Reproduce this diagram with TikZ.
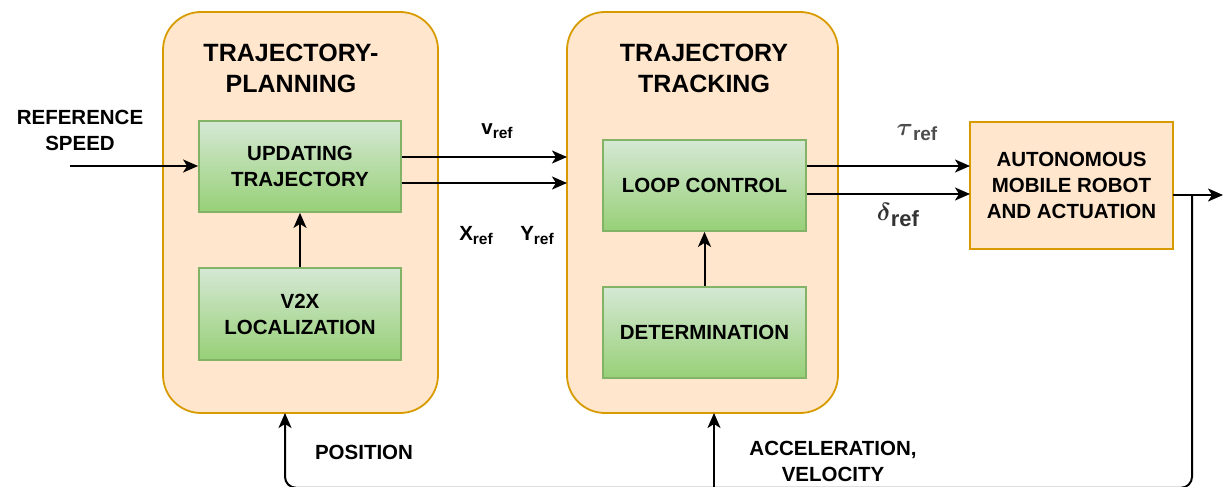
\documentclass[tikz,border=0pt]{standalone}
\usepackage{amsmath}
\usepackage{fontspec}
\setmainfont{Liberation Sans}
\usetikzlibrary{arrows.meta}
\definecolor{orfill}{HTML}{FFE6CC}
\definecolor{orline}{HTML}{D79B00}
\definecolor{grtop}{HTML}{D5E8D4}
\definecolor{grbot}{HTML}{97D077}
\definecolor{grline}{HTML}{82B366}
\definecolor{taucol}{HTML}{4D4D4D}
\definecolor{delcol}{HTML}{333333}
\begin{document}
\begin{tikzpicture}[x=1pt,y=-1pt,
  bigbox/.style={draw=orline,fill=orfill,line width=1.8pt,rounded corners=38pt},
  robbox/.style={draw=orline,fill=orfill,line width=1.8pt},
  greenbox/.style={draw=grline,line width=1.8pt,top color=grtop,bottom color=grbot},
  title/.style={font=\fontsize{25}{31}\selectfont\bfseries,align=center,inner sep=0pt},
  body/.style={font=\fontsize{20.5}{26}\selectfont\bfseries,align=center,inner sep=0pt},
  lab/.style={font=\fontsize{20.5}{26}\selectfont\bfseries,inner sep=0pt},
  arr/.style={draw=black,line width=2pt,-{Stealth[length=15pt,width=13pt,inset=4pt]}},
  ln/.style={draw=black,line width=2pt}]
\useasboundingbox (0,0) rectangle (1223,487);
% big boxes
\path[bigbox] (163,12) rectangle (438,413);
\path[bigbox] (567,12) rectangle (838,413);
\coordinate (planbot) at (285,413);
\coordinate (trackbot) at (714,413);
\coordinate (planl1) at (567,157);
\coordinate (planl2) at (567,183);
\node[title] (t1) at (291,68) {TRAJECTORY-\\PLANNING};
\node[title] (t2) at (704,68) {TRAJECTORY\\TRACKING};
% green boxes
\node[greenbox,minimum width=202pt,minimum height=91pt,inner sep=0pt] (upd) at (300,166.5) {};
\node[body] at (upd.center) {UPDATING\\TRAJECTORY};
\node[greenbox,minimum width=202pt,minimum height=92pt,inner sep=0pt] (v2x) at (300,314) {};
\node[body] at (v2x.center) {V2X\\LOCALIZATION};
\node[greenbox,minimum width=203pt,minimum height=91pt,inner sep=0pt] (loop) at (704.5,185.5) {};
\node[body] at (loop.center) {LOOP CONTROL};
\node[greenbox,minimum width=203pt,minimum height=91pt,inner sep=0pt] (det) at (704.5,332.5) {};
\node[body] at (det.center) {DETERMINATION};
% robot box
\node[robbox,minimum width=203pt,minimum height=127pt,inner sep=0pt] (rob) at (1071.5,185.5) {};
\node[body] at (rob.center) {AUTONOMOUS\\MOBILE ROBOT\\AND ACTUATION};
% input
\node[body] (refs) at (80,130.5) {REFERENCE\\SPEED};
\coordinate (in) at (70,166);
\draw[arr] (in) -- (upd.west |- in);
% internal arrows
\draw[arr] (v2x.north -| 300,0) -- (upd.south);
\draw[arr] (det.north) -- (loop.south);
% planning to tracking
\draw[arr] (upd.east |- planl1) -- (planl1);
\draw[arr] (upd.east |- planl2) -- (planl2);
\node[lab] (vref) at (497,131) {v\raisebox{-4pt}{\fontsize{15.5}{15}\selectfont ref}};
\node[lab] (xref) at (476,236) {X\raisebox{-4pt}{\fontsize{15.5}{15}\selectfont ref}};
\node[lab] (yref) at (537,236) {Y\raisebox{-4pt}{\fontsize{15.5}{15}\selectfont ref}};
% tracking to robot
\coordinate (r1) at (970,166);
\coordinate (r2) at (970,194);
\draw[arr] (loop.east |- r1) -- (r1);
\draw[arr] (loop.east |- r2) -- (r2);
\node[lab,text=taucol] (tau) at (917,133) {\fontsize{30}{30}\selectfont$\boldsymbol{\tau}$\raisebox{-5pt}{\fontsize{19}{19}\selectfont ref}};
\node[lab,text=delcol] (del) at (898,215) {\fontsize{34}{34}\selectfont$\boldsymbol{\delta}$\raisebox{-6pt}{\fontsize{22}{22}\selectfont ref}};
% output
\coordinate (ro) at (1173,195);
\coordinate (out) at (1223,195);
\coordinate (fb) at (1192,195);
\draw[arr] (ro) -- (out);
% feedback
\coordinate (fbc) at (1192,487.8);
\coordinate (fbl) at (285,487.8);
\coordinate (fbm) at (714,487.8);
\draw[arr,rounded corners=11pt] (fb) -- (fbc) -- (fbl) -- (planbot);
\draw[arr] (fbm) -- (trackbot);
\node[lab] (pos) at (364,452) {POSITION};
\node[body] (acc) at (833,461.5) {ACCELERATION,\\VELOCITY};
\end{tikzpicture}
\end{document}
